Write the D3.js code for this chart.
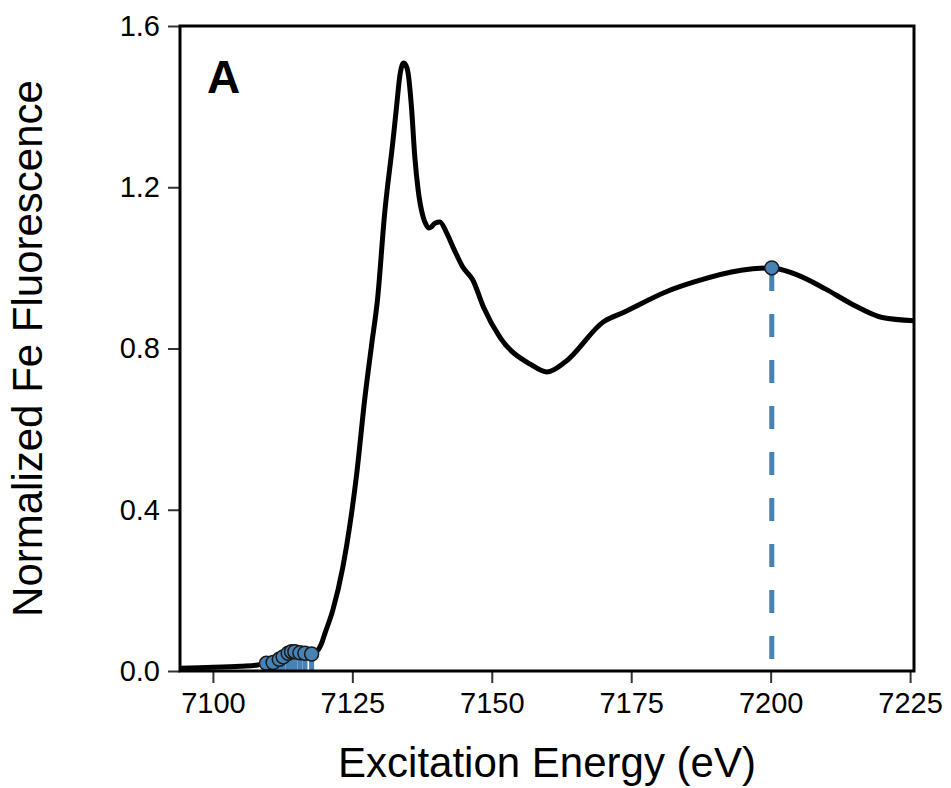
<!DOCTYPE html>
<html>
<head>
<meta charset="utf-8">
<script src="https://cdn.jsdelivr.net/npm/d3@7.9.0/dist/d3.min.js"></script>
<style>
  body { margin: 0; background: #fff; }
  svg { display: block; font-family: "Liberation Sans", Arial, Helvetica, sans-serif; }
</style>
</head>
<body>
<svg id="chart" width="951" height="788"></svg>
<script>
// Spectrum (energy in eV, normalized fluorescence)
const energy = [7094.1, 7100, 7105, 7108, 7109.6, 7110.8, 7111.9, 7112.6, 7113.5, 7114.1,
  7114.7, 7115.6, 7116.5, 7117.7, 7118.6, 7119.4, 7120.1, 7121.5, 7123.3, 7124.5, 7125.8,
  7127.2, 7128.5, 7129.5, 7130.8, 7132.3, 7133.0, 7133.5, 7133.9, 7134.2, 7134.6, 7135.0,
  7135.6, 7136.2, 7136.8, 7137.7, 7138.2, 7138.7, 7139.2, 7139.8, 7140.7, 7141.9, 7143.3,
  7144.8, 7146.6, 7148.5, 7151.5, 7156.9, 7159.9, 7163.2, 7170.1, 7173.7, 7181.5, 7186.3,
  7194.7, 7200.2, 7204.3, 7209.8, 7214.6, 7220.0, 7225.7];
const fluorescence = [0.007, 0.009, 0.012, 0.015, 0.019, 0.021, 0.029, 0.035, 0.044, 0.048,
  0.048, 0.045, 0.044, 0.042, 0.048, 0.066, 0.094, 0.151, 0.258, 0.357, 0.491,
  0.672, 0.814, 0.92, 1.136, 1.317, 1.41, 1.475, 1.502, 1.508, 1.503, 1.483,
  1.399, 1.275, 1.193, 1.126, 1.108, 1.099, 1.102, 1.111, 1.114, 1.087, 1.044,
  1.002, 0.97, 0.903, 0.827, 0.761, 0.742, 0.767, 0.867, 0.890, 0.942, 0.965,
  0.994, 1.0, 0.985, 0.948, 0.910, 0.877, 0.869];

// Highlighted excitation energies (pre-edge points and the 7200 eV point)
const markerEnergy = [7109.6, 7110.8, 7111.9, 7112.6, 7113.5, 7114.1, 7114.7, 7115.6, 7116.5, 7117.7, 7200.2];
const markerValue = [0.019, 0.021, 0.029, 0.035, 0.044, 0.048, 0.048, 0.045, 0.044, 0.042, 1.0];

const xTicks = [7100, 7125, 7150, 7175, 7200, 7225];
const yTicks = [0, 0.4, 0.8, 1.2, 1.6];

const margin = { top: 26, right: 37, bottom: 117, left: 180 };
const width = 951 - margin.left - margin.right;
const height = 788 - margin.top - margin.bottom;

const svg = d3.select("#chart");
const g = svg.append("g").attr("transform", `translate(${margin.left},${margin.top})`);

const x = d3.scaleLinear().domain([7094.1, 7225.7]).range([0, width]);
const y = d3.scaleLinear().domain([0, 1.6]).range([height, 0]);

svg.append("defs").append("clipPath").attr("id", "plot-clip")
  .append("rect").attr("width", width).attr("height", height);

// axes
const xAxis = g.append("g")
  .attr("transform", `translate(0,${height})`)
  .call(d3.axisBottom(x).tickValues(xTicks).tickFormat(d3.format("d")).tickSize(12).tickPadding(9));
const yAxis = g.append("g")
  .call(d3.axisLeft(y).tickValues(yTicks).tickFormat(d3.format(".1f")).tickSize(12).tickPadding(8));

[xAxis, yAxis].forEach(ax => {
  ax.select(".domain").remove();
  ax.selectAll("line").attr("stroke", "#333").attr("stroke-width", 2);
  ax.selectAll("text").attr("font-size", 29).attr("fill", "#000")
    .attr("font-family", '"Liberation Sans", Arial, sans-serif');
});

const data = energy.map((e, i) => ({ e, v: fluorescence[i] }));
const markers = markerEnergy.map((e, i) => ({ e, v: markerValue[i] }));

const plot = g.append("g").attr("clip-path", "url(#plot-clip)");

const line = d3.line()
  .x(d => x(d.e))
  .y(d => y(d.v))
  .curve(d3.curveMonotoneX);

plot.append("path")
  .datum(data)
  .attr("d", line)
  .attr("fill", "none")
  .attr("stroke", "#000")
  .attr("stroke-width", 5)
  .attr("stroke-linejoin", "round");

// dashed drop lines from each marker to the baseline
plot.selectAll(".drop")
  .data(markers)
  .enter()
  .append("line")
  .attr("class", "drop")
  .attr("x1", d => x(d.e))
  .attr("x2", d => x(d.e))
  .attr("y1", d => y(d.v))
  .attr("y2", y(0))
  .attr("stroke", "steelblue")
  .attr("stroke-width", 5)
  .attr("stroke-dasharray", "23,23");

plot.selectAll(".marker")
  .data(markers)
  .enter()
  .append("circle")
  .attr("class", "marker")
  .attr("cx", d => x(d.e))
  .attr("cy", d => y(d.v))
  .attr("r", 7)
  .attr("fill", "steelblue")
  .attr("stroke", "#1a1a1a")
  .attr("stroke-width", 1.5);

// frame
g.append("rect")
  .attr("width", width)
  .attr("height", height)
  .attr("fill", "none")
  .attr("stroke", "#000")
  .attr("stroke-width", 3);

// panel letter
g.append("text")
  .attr("x", 27)
  .attr("y", 67)
  .attr("font-size", 46)
  .attr("font-weight", "bold")
  .text("A");

// axis titles
svg.append("text")
  .attr("x", margin.left + width / 2)
  .attr("y", 777)
  .attr("text-anchor", "middle")
  .attr("font-size", 42)
  .text("Excitation Energy (eV)");

svg.append("text")
  .attr("transform", `translate(42,${margin.top + height / 2}) rotate(-90)`)
  .attr("text-anchor", "middle")
  .attr("font-size", 42)
  .text("Normalized Fe Fluorescence");
</script>
</body>
</html>
